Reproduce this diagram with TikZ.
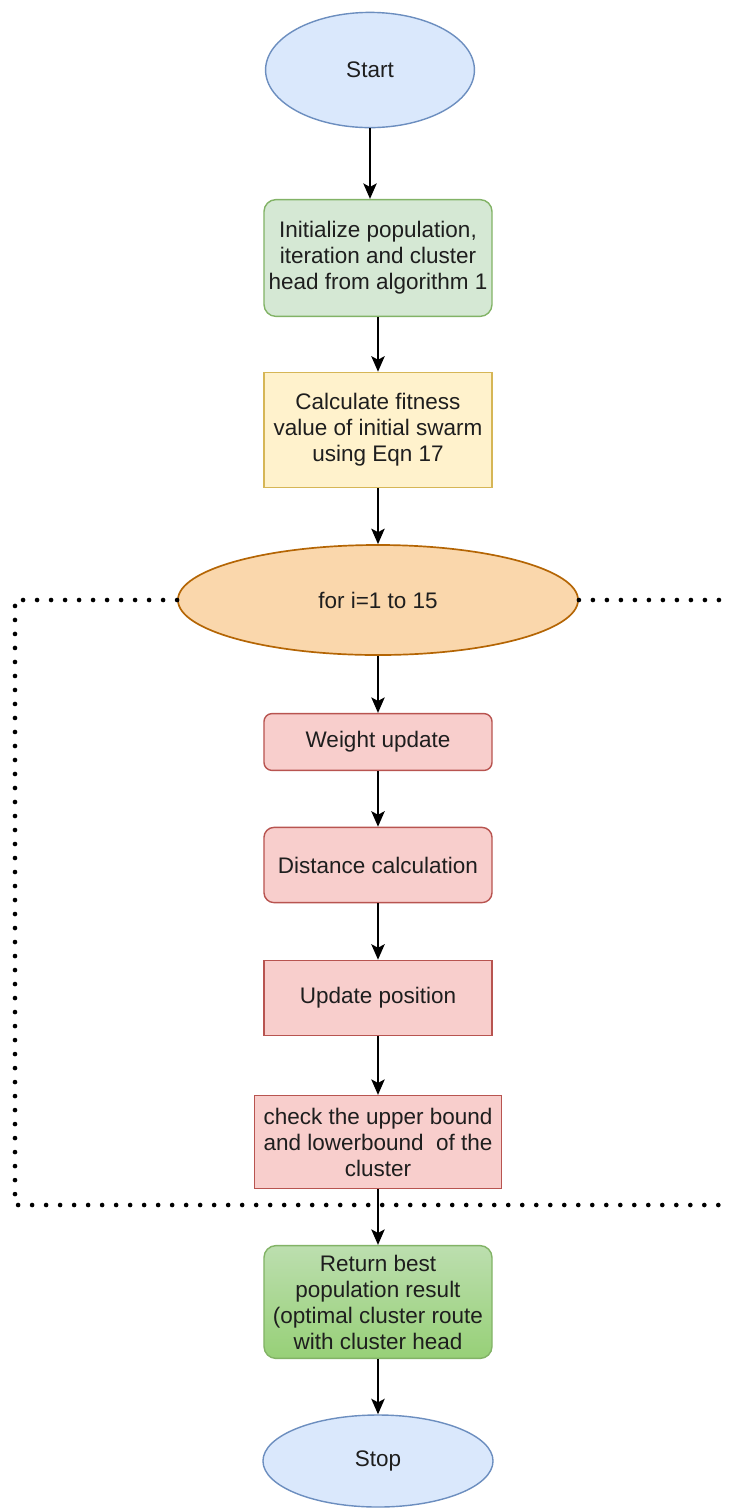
\documentclass[tikz,border=0pt]{standalone}
\usepackage{fontspec}
\setmainfont{Liberation Sans}
\usetikzlibrary{arrows.meta,shapes.geometric}

\definecolor{bluefill}{HTML}{DAE8FC}
\definecolor{bluedraw}{HTML}{6C8EBF}
\definecolor{greenfill}{HTML}{D5E8D4}
\definecolor{greendraw}{HTML}{82B366}
\definecolor{greendark}{HTML}{97D077}
\definecolor{yellowfill}{HTML}{FFF2CC}
\definecolor{yellowdraw}{HTML}{D6B656}
\definecolor{orangefill}{HTML}{FAD7AC}
\definecolor{orangedraw}{HTML}{B46504}
\definecolor{redfill}{HTML}{F8CECC}
\definecolor{reddraw}{HTML}{B85450}
\definecolor{txt}{HTML}{1E1E1E}

\begin{document}
\begin{tikzpicture}[x=0.025cm, y=-0.025cm,
	font=\fontsize{16}{18.5}\selectfont, text=txt,
	terminal/.style={ellipse, draw=bluedraw, fill=bluefill, line width=1pt, inner sep=0pt},
	process/.style={draw, line width=1pt, minimum width=5.7cm, align=center, inner sep=0pt},
	loophead/.style={ellipse, draw=orangedraw, fill=orangefill, line width=1.2pt, minimum width=10cm, minimum height=2.75cm},
	flow/.style={-{Stealth[length=11pt, width=9.5pt, inset=2.5pt]}, line width=1.4pt},
	loopline/.style={line width=3.3pt, line cap=round, dash pattern=on 0pt off 0.35cm}]
	\useasboundingbox (0,0) rectangle (732,1508);
	\node[terminal, minimum width=5.22cm, minimum height=2.88cm] (Start) at (370,70) {Start};
	\node[process, rounded corners=0.3cm, draw=greendraw, fill=greenfill, minimum height=2.92cm] (Init) at (378,258) {Initialize population,\\iteration and cluster\\head from algorithm 1};
	\node[process, draw=yellowdraw, fill=yellowfill, minimum height=2.88cm] (Calc) at (378,430) {Calculate fitness\\value of initial swarm\\using Eqn 17};
	\node[loophead] (For) at (378,600) {for i=1 to 15};
	\node[process, rounded corners=0.2cm, draw=reddraw, fill=redfill, minimum height=1.42cm] (Weight) at (378,742) {Weight update};
	\node[process, rounded corners=0.25cm, draw=reddraw, fill=redfill, minimum height=1.88cm] (Dist) at (378,865) {Distance calculation};
	\node[process, draw=reddraw, fill=redfill, minimum height=1.88cm] (Pos) at (378,998) {Update position};
	\node[process, draw=reddraw, fill=redfill, minimum width=6.18cm, minimum height=2.32cm] (Bound) at (378,1142) {check the upper bound\\and lowerbound~ of the\\cluster};
	\node[process, rounded corners=0.3cm, draw=greendraw, top color=greenfill!60!greendark, bottom color=greendark, minimum height=2.82cm] (Best) at (378,1302) {Return best\\population result\\(optimal cluster route\\with cluster head};
	\node[terminal, minimum width=5.75cm, minimum height=2.3cm] (Stop) at (378,1461) {Stop};
	% loop border
	\coordinate (LT) at (15,600);
	\coordinate (LB) at (15,1205);
	\coordinate (RB) at (732,1205);
	\coordinate (RT) at (732,600);
	\draw[loopline] (For.west) -- (LT) -- (LB) -- (RB);
	\draw[loopline] (For.east) -- (RT);
	\draw[flow] (Start.south) -- (Start.south |- Init.north);
	\draw[flow] (Init) -- (Calc);
	\draw[flow] (Calc) -- (For);
	\draw[flow] (For) -- (Weight);
	\draw[flow] (Weight) -- (Dist);
	\draw[flow] (Dist) -- (Pos);
	\draw[flow] (Pos) -- (Bound);
	\draw[flow] (Bound) -- (Best);
	\draw[flow] (Best) -- (Stop);
\end{tikzpicture}
\end{document}
